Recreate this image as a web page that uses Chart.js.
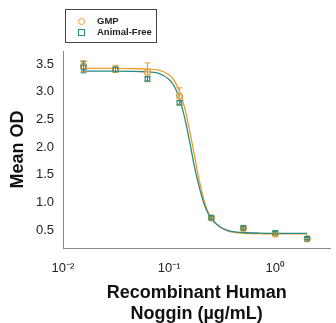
<!DOCTYPE html>
<html>
<head>
<meta charset="utf-8">
<script src="https://cdn.jsdelivr.net/npm/chart.js@4"></script>
<style>
  html, body { margin: 0; padding: 0; background: #fff; }
  .wrap { position: relative; width: 336px; height: 323px; }
  .legend {
    position: absolute; left: 65px; top: 9px; width: 90px; height: 32px;
    border: 1px solid #444; font: bold 9.5px "Liberation Sans", Arial, sans-serif; color: #222;
  }
  .legend .row { position: absolute; left: 31px; }
  .legend .mk { position: absolute; left: 12px; box-sizing: border-box; }
</style>
</head>
<body>
<div class="wrap">
  <canvas id="noggin" width="336" height="323"></canvas>
  <div class="legend">
    <span class="mk" style="top:8px;width:7px;height:7px;border:1px solid #EE9B2C;border-radius:50%"></span>
    <span class="row" style="top:5px">GMP</span>
    <span class="mk" style="top:19px;width:7px;height:7px;border:1px solid #2A8A84"></span>
    <span class="row" style="top:16px">Animal-Free</span>
  </div>
</div>
<script>
const ORANGE = '#EE9B2C'
const TEAL = '#2A8A84'

// measured points (ug/mL)
const conc = [0.015625, 0.03125, 0.0625, 0.125, 0.25, 0.5, 1, 2]
const gmpMean = [3.46, 3.41, 3.35, 2.92, 0.72, 0.53, 0.43, 0.34]
const gmpErr = [0.10, 0.06, 0.17, 0.15, 0.02, 0.02, 0.02, 0.02]
const afMean = [3.44, 3.40, 3.23, 2.80, 0.72, 0.54, 0.45, 0.345]
const afErr = [0.10, 0.04, 0.04, 0.04, 0.02, 0.02, 0.02, 0.02]

// fitted curves
const curveX = [0.015, 0.03, 0.06, 0.08, 0.1, 0.11, 0.12, 0.13, 0.14, 0.15, 0.16, 0.17, 0.18, 0.19, 0.2, 0.22, 0.25, 0.3, 0.35, 0.4, 0.5, 0.7, 1, 2]
const gmpCurve = [3.42, 3.42, 3.41, 3.39, 3.30, 3.22, 3.09, 2.92, 2.71, 2.46, 2.19, 1.93, 1.67, 1.44, 1.25, 0.95, 0.71, 0.56, 0.49, 0.46, 0.44, 0.435, 0.43, 0.43]
const afCurve = [3.37, 3.37, 3.36, 3.33, 3.22, 3.12, 2.97, 2.77, 2.53, 2.26, 1.99, 1.72, 1.50, 1.31, 1.15, 0.90, 0.70, 0.56, 0.50, 0.47, 0.455, 0.445, 0.44, 0.44]

const xMajor = [0.01, 0.1, 1]
const xMajorLabels = ['10\u207B\u00B2', '10\u207B\u00B9', '10\u2070']
const yTicks = [0.5, 1.0, 1.5, 2.0, 2.5, 3.0, 3.5]

const pts = (xs, ys) => xs.map((x, i) => ({ x: x, y: ys[i] }))

// error bars with caps
const errorBars = {
  id: 'errorBars',
  afterDatasetsDraw(chart) {
    const ctx = chart.ctx
    const xs = chart.scales.x, ys = chart.scales.y
    const sets = [[gmpMean, gmpErr, ORANGE], [afMean, afErr, TEAL]]
    ctx.save()
    ctx.lineWidth = 1
    sets.forEach(([m, e, col]) => {
      ctx.strokeStyle = col
      conc.forEach((c, i) => {
        const px = xs.getPixelForValue(c)
        const top = ys.getPixelForValue(m[i] + e[i])
        const bot = ys.getPixelForValue(m[i] - e[i])
        ctx.beginPath()
        ctx.moveTo(px, top); ctx.lineTo(px, bot)
        ctx.moveTo(px - 3, top); ctx.lineTo(px + 3, top)
        ctx.moveTo(px - 3, bot); ctx.lineTo(px + 3, bot)
        ctx.stroke()
      })
    })
    ctx.restore()
  }
}

const font = { family: "'Liberation Sans', Arial, sans-serif", size: 13 }

new Chart(document.getElementById('noggin'), {
  type: 'scatter',
  data: {
    datasets: [
      { data: pts(conc, afMean), pointStyle: 'rect', pointRadius: 3.2, borderColor: TEAL, backgroundColor: 'rgba(255,255,255,0.3)', borderWidth: 1.2, order: 0 },
      { data: pts(conc, gmpMean), pointStyle: 'circle', pointRadius: 3, borderColor: ORANGE, backgroundColor: 'rgba(255,255,255,0.3)', borderWidth: 1.2, order: 1 },
      { data: pts(curveX, afCurve), showLine: true, pointRadius: 0, borderColor: TEAL, borderWidth: 1.3, cubicInterpolationMode: 'monotone', order: 2 },
      { data: pts(curveX, gmpCurve), showLine: true, pointRadius: 0, borderColor: ORANGE, borderWidth: 1.3, cubicInterpolationMode: 'monotone', order: 3 }
    ]
  },
  options: {
    responsive: false,
    animation: false,
    layout: { padding: { top: 51, right: 1, left: 0, bottom: 0 } },
    plugins: { legend: { display: false }, tooltip: { enabled: false } },
    scales: {
      x: {
        type: 'logarithmic',
        min: 0.01,
        max: 3.3,
        afterBuildTicks(scale) {
          const t = []
          xMajor.forEach(d => { for (let k = 1; k <= 9; k++) { const v = d * k; if (v <= 3.3) t.push({ value: v }) } })
          scale.ticks = t
        },
        afterFit(scale) { scale.height = 75 },
        ticks: {
          autoSkip: false,
          maxRotation: 0,
          padding: 10,
          color: '#222',
          font: font,
          callback(v) {
            const i = xMajor.findIndex(d => Math.abs(d - v) < d * 1e-6)
            return i >= 0 ? xMajorLabels[i] : ''
          }
        },
        grid: { display: false, drawTicks: true, tickLength: 3, tickColor: '#888' },
        border: { color: '#888', width: 1 },
        title: {
          display: true,
          text: ['Recombinant Human', 'Noggin (\u00B5g/mL)'],
          color: '#111',
          font: { family: font.family, size: 18, weight: 'bold', lineHeight: 1.15 },
          padding: { top: 0, bottom: -1 }
        }
      },
      y: {
        min: 0.175,
        max: 3.735,
        afterBuildTicks(scale) { scale.ticks = yTicks.map(v => ({ value: v })) },
        afterFit(scale) { scale.width = 63 },
        ticks: { color: '#222', font: font, padding: 4, callback: v => v.toFixed(1) },
        grid: { display: false, drawTicks: true, tickLength: 5, tickColor: '#888' },
        border: { color: '#888', width: 1 },
        title: {
          display: true,
          text: 'Mean OD',
          color: '#111',
          font: { family: font.family, size: 18, weight: 'bold' },
          padding: { top: 7, bottom: 0 }
        }
      }
    }
  },
  plugins: [errorBars]
})
</script>
</body>
</html>
